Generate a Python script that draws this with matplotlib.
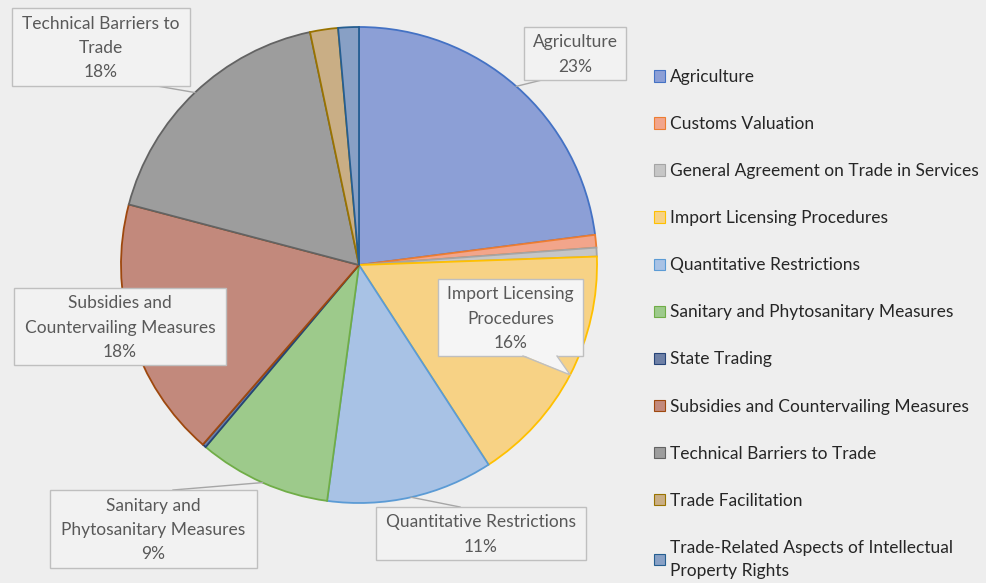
import numpy as np
import matplotlib
matplotlib.use("Agg")
import matplotlib.pyplot as plt
from matplotlib.patches import Rectangle

plt.rcParams['font.family'] = ['Lato', 'DejaVu Sans']

categories = ["Agriculture", "Customs Valuation", "General Agreement on Trade in Services",
              "Import Licensing Procedures", "Quantitative Restrictions",
              "Sanitary and Phytosanitary Measures", "State Trading",
              "Subsidies and Countervailing Measures", "Technical Barriers to Trade",
              "Trade Facilitation",
              "Trade-Related Aspects of Intellectual Property Rights"]
shares = [22.97, 0.86, 0.6, 16.4, 11.3, 9.0, 0.25, 17.7, 17.6, 1.9, 1.4]
legend_labels = categories[:-1] + ["Trade-Related Aspects of Intellectual\nProperty Rights"]

face_colors = ["#8c9fd6", "#f2a58b", "#c6c6c6", "#f7d285", "#a8c2e5", "#9dca8b",
               "#6e80a6", "#c2897c", "#9d9d9d", "#c9ae85", "#88a0c5"]
edge_colors = ["#4472c4", "#ed7d31", "#a5a5a5", "#ffc000", "#5b9bd5", "#70ad47",
               "#264478", "#9e480e", "#636363", "#997300", "#255e91"]

# label boxes (pixel coords, top-left origin): box, leader start, wrapped text
label_boxes = {
    "Agriculture": ((524, 27, 626, 80), (542, 80), "Agriculture"),
    "Import Licensing Procedures": ((438, 279, 583, 356), None, "Import Licensing\nProcedures"),
    "Quantitative Restrictions": ((376, 507, 586, 560), (460, 507), "Quantitative Restrictions"),
    "Sanitary and Phytosanitary Measures": ((50, 490, 257, 568), (173, 490), "Sanitary and\nPhytosanitary Measures"),
    "Subsidies and Countervailing Measures": ((14, 288, 226, 365), None, "Subsidies and\nCountervailing Measures"),
    "Technical Barriers to Trade": ((12, 8, 190, 86), (157, 86), "Technical Barriers to\nTrade"),
}

W, H = 987, 583
bg = "#eeeeee"
text_col = "#595959"


def py(y):
    return H - y


fig = plt.figure(figsize=(W / 100, H / 100), dpi=100, facecolor=bg)
ax = fig.add_axes([0, 0, 1, 1])
ax.set_facecolor(bg)

cx, cy, r = 359, 265, 238
wedges, _ = ax.pie(shares, startangle=90, counterclock=False, center=(cx, py(cy)),
                   radius=r, colors=face_colors,
                   wedgeprops=dict(linewidth=1.3))
for w, ec in zip(wedges, edge_colors):
    w.set_edgecolor(ec)

ax.set_xlim(0, W)
ax.set_ylim(0, H)
ax.set_aspect('equal')
ax.axis('off')

total = sum(shares)
for name, (box, lead, txt) in label_boxes.items():
    i = categories.index(name)
    w = wedges[i]
    mid = np.deg2rad((w.theta1 + w.theta2) / 2)
    ax_x = cx + r * np.cos(mid)
    ax_y = py(cy) + r * np.sin(mid)
    pct = round(shares[i] / total * 100)
    x0, y0, x1, y1 = box
    fc = "#f5f5f5" if name.startswith("Import") else "#f2f2f2"
    ax.add_patch(Rectangle((x0, py(y1)), x1 - x0, y1 - y0, facecolor=fc,
                           edgecolor="#bfbfbf", linewidth=1.0, zorder=5))
    ax.text((x0 + x1) / 2, py((y0 + y1) / 2) - 1, f"{txt}\n{pct}%", ha='center', va='center',
            fontsize=12.5, color=text_col, linespacing=1.62, zorder=6)
    if lead is not None:
        ax.plot([lead[0], ax_x], [py(lead[1]), ax_y], color="#a6a6a6", lw=1.0, zorder=4)
    elif name.startswith("Import"):
        # callout pointer down to the slice edge
        tip = (ax_x, ax_y)
        ax.fill([523, tip[0], 557], [py(y1) + 1, tip[1], py(y1) + 1],
                color=fc, zorder=6, lw=0)
        ax.plot([523, tip[0], 557], [py(y1), tip[1], py(y1)],
                color="#bfbfbf", lw=1.0, zorder=6)

leg = ax.legend(wedges, legend_labels, loc='upper left', bbox_to_anchor=(654 / W, 1 - 69 / H),
                frameon=False, fontsize=12.5, handlelength=0.62, handleheight=0.62,
                handletextpad=0.3, labelspacing=1.79, borderaxespad=0, borderpad=0)
for t in leg.get_texts():
    t.set_color("#262626")
    t.set_linespacing(1.55)
for h, fcol, ecol in zip(leg.legend_handles, face_colors, edge_colors):
    h.set_facecolor(fcol)
    h.set_edgecolor(ecol)
    h.set_linewidth(0.8)

fig.savefig("out.png", dpi=100, facecolor=bg)
